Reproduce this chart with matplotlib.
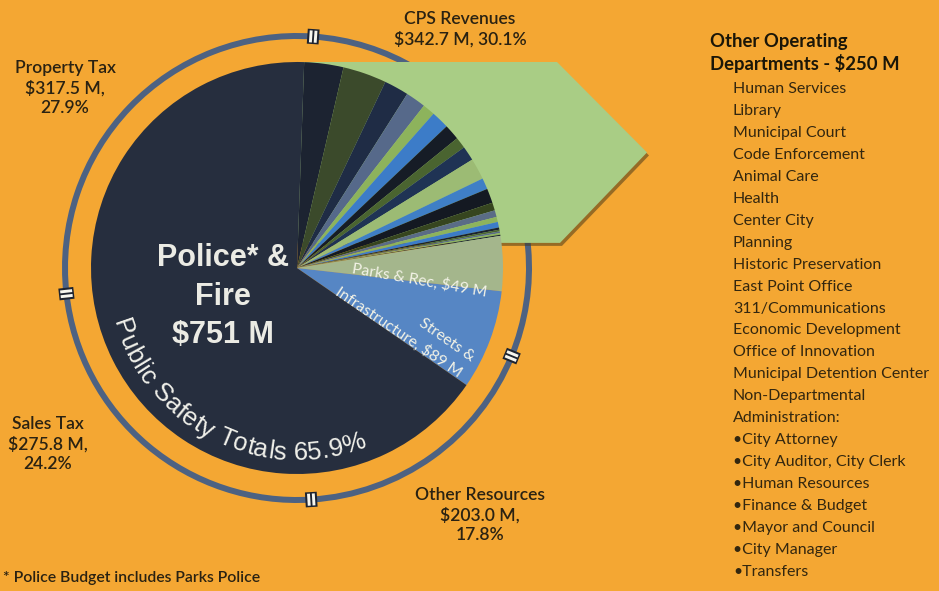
import numpy as np
import matplotlib.pyplot as plt
from matplotlib.patches import Polygon
from matplotlib import font_manager
from matplotlib.ft2font import FT2Font

# Spending by department ($M) -> inner pie
police_fire = 751
streets = 89
parks = 49
other_total = 250
public_safety_pct = 65.9
# thin slices of "Other Operating Departments", read clockwise from the top
other_slices = [35, 39, 22, 18, 11, 16, 14, 10, 13, 19, 10, 13, 7, 6, 4.5, 5, 2, 1.5, 1.5, 1.5, 1]
other_colors = ['#1c2331', '#3b4a2b', '#1f2c45', '#56698a', '#8db35c', '#3c7cc8', '#161c26',
                '#4a6430', '#1f3354', '#9cbb74', '#3f7fc6', '#141922', '#36451f', '#5a6c86',
                '#8db35c', '#3c7cc8', '#1a2130', '#4a6430', '#5a6c86', '#8db35c', '#1c2331']

# Revenue sources ($M) -> outer ring, clockwise from the top
revenue_labels = ["CPS Revenues", "Other Resources", "Sales Tax", "Property Tax"]
revenue_values = [342.7, 203.0, 275.8, 317.5]
revenue_pct = [30.1, 17.8, 24.2, 27.9]

other_depts = ["Human Services", "Library", "Municipal Court", "Code Enforcement", "Animal Care",
               "Health", "Center City", "Planning", "Historic Preservation", "East Point Office",
               "311/Communications", "Economic Development", "Office of Innovation",
               "Municipal Detention Center", "Non-Departmental", "Administration:",
               "\u2022City Attorney", "\u2022City Auditor, City Clerk", "\u2022Human Resources",
               "\u2022Finance & Budget", "\u2022Mayor and Council", "\u2022City Manager", "\u2022Transfers"]

BG = '#f4a733'
NAVY = '#262e3e'
DARK = '#2a2212'
W, H = 939, 591
cx, cy, R = 297, 323, 206
RING = 232
START = 88
RING_START = 86
LABEL_FONT = ['Lato', 'DejaVu Sans']


def img(x, y):
    # picture coords (y down) -> axes coords (y up)
    return x, H - y


fig = plt.figure(figsize=(W / 100, H / 100), dpi=100)
fig.patch.set_facecolor(BG)
ax = fig.add_axes([0, 0, 1, 1])
ax.set_facecolor(BG)

# outer revenue ring
ring_w, _ = ax.pie(revenue_values, radius=RING + 3, center=(cx, cy), startangle=RING_START,
                   counterclock=False, colors=['#4d6282'] * 4,
                   wedgeprops=dict(width=6, linewidth=0))
for w in ring_w:
    w.set_zorder(1)
for w in ring_w:
    th = np.deg2rad(w.theta2)
    u = np.array([np.cos(th), np.sin(th)])
    t = np.array([-np.sin(th), np.cos(th)])
    p = np.array([cx, cy]) + RING * u
    a, b = p - 7.5 * u, p + 7.5 * u
    ax.plot([a[0], b[0]], [a[1], b[1]], color='#1e2430', lw=8.5, solid_capstyle='butt', zorder=5)
    for s in (-2.4, 2.4):
        a2, b2 = p - 6 * u + s * t, p + 6 * u + s * t
        ax.plot([a2[0], b2[0]], [a2[1], b2[1]], color='#f6f6ee', lw=2.1,
                solid_capstyle='butt', zorder=6)

# callout behind the "other departments" slices
top, bot = cy + R, cy + R * np.sin(np.deg2rad(7))
mid = (top + bot) / 2
shape = [(cx, top), (cx + 260, top), (cx + 350, mid), (cx + 263, bot), (cx, bot)]
ax.add_patch(Polygon([(x + 2, y - 3) for x, y in shape], closed=True, fc='#4a3a1a',
                     ec='none', alpha=0.55, zorder=2))
ax.add_patch(Polygon(shape, closed=True, fc='#a9cd85', ec='none', zorder=3))

# inner pie: other departments, parks, streets, police & fire (clockwise from top)
values = other_slices + [parks, streets, police_fire]
colors = other_colors + ['#a4b68c', '#5686c4', NAVY]
wedges, _ = ax.pie(values, radius=R, center=(cx, cy), startangle=START, counterclock=False,
                   colors=colors, wedgeprops=dict(linewidth=0))
for w in wedges:
    w.set_zorder(4)

ax.set_xlim(0, W)
ax.set_ylim(0, H)
ax.set_aspect('equal')
ax.axis('off')

# center label
for txt, y in [("Police* &", 258), ("Fire", 297), ("$751 M", 335)]:
    ax.text(*img(223, y), txt, color='#ebebe4', fontsize=22, fontweight='bold',
            family='Liberation Sans', ha='center', va='center', zorder=7)

# curved "Public Safety Totals" text along the bottom of the pie
arc_text = f"Public Safety Totals {public_safety_pct}%"
fsize = 18.5
fpath = font_manager.findfont(font_manager.FontProperties(family='Liberation Sans'))
ft = FT2Font(fpath)
ft.set_size(fsize, 72)
adv = [ft.load_char(ord(c)).linearHoriAdvance / 65536 * 100 / 72 for c in arc_text]
r_txt = 185
theta0 = np.deg2rad(199) - adv[0] / 2 / r_txt
pos = 0.0
for c, a in zip(arc_text, adv):
    th = theta0 + (pos + a / 2) / r_txt
    pos += a
    if c == ' ':
        continue
    ax.text(cx + r_txt * np.cos(th), cy + r_txt * np.sin(th), c, fontsize=fsize,
            family='Liberation Sans', color='#f0f0ea', ha='center', va='center',
            rotation=np.rad2deg(th) + 90, rotation_mode='anchor', zorder=7)

# slice labels
SL = dict(fontsize=11.3, family=LABEL_FONT, color='#f2f2e6', ha='center', va='center',
          rotation_mode='anchor', zorder=7)
ax.text(*img(419, 280), f"Parks & Rec, ${parks} M", rotation=-10, **SL)
ax.text(*img(447, 340), "Streets &", rotation=-35, **SL)
ax.text(*img(399, 332), f"Infrastructure, ${streets} M", rotation=-34, **SL)

# revenue labels
rev_pos = {"CPS Revenues": (460, 29, 2), "Other Resources": (480, 515, 3),
           "Sales Tax": (48, 444, 3), "Property Tax": (65, 88, 3)}
for lab, val, pct in zip(revenue_labels, revenue_values, revenue_pct):
    x, y, nl = rev_pos[lab]
    if nl == 2:
        s = f"{lab}\n${val:.1f} M, {pct}%"
    else:
        s = f"{lab}\n${val:.1f} M,\n{pct}%"
    ax.text(*img(x, y), s, fontsize=12.6, family=LABEL_FONT, color=DARK, ha='center',
            va='center', linespacing=1.3, fontweight='semibold', zorder=7)

ax.text(*img(3, 578), "* Police Budget includes Parks Police", fontsize=11.3, family=LABEL_FONT,
        color=DARK, ha='left', va='center', fontweight='semibold', zorder=7)

# other departments list
ax.text(*img(710, 53), f"Other Operating\nDepartments - ${other_total} M", fontsize=13.3,
        fontweight='bold', family=LABEL_FONT, color='#1a1608', ha='left', va='center',
        linespacing=1.25, zorder=7)
for i, d in enumerate(other_depts):
    ax.text(*img(733, 89 + i * 21.95), d, fontsize=11.5, family=LABEL_FONT, color='#33270f',
            ha='left', va='center', zorder=7)

fig.savefig('out.png', dpi=100, facecolor=BG)
